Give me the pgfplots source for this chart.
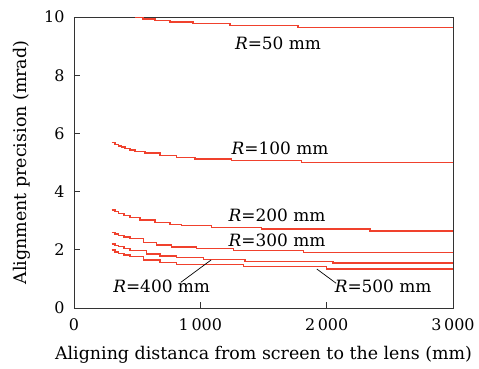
\documentclass[border=0pt]{standalone}
\usepackage{pgfplots}
\pgfplotsset{compat=1.18}
\usepackage{fontspec}
\setmainfont{DejaVu Serif}
\definecolor{cred}{RGB}{240,65,45}
\begin{document}
\fontsize{16}{19}\selectfont
\begin{tikzpicture}
\useasboundingbox (-74bp,-61bp) rectangle (405bp,308bp);
\begin{axis}[
  at={(0,0)}, anchor=south west,
  scale only axis,
  width=379bp, height=291bp,
  xmin=0, xmax=3000, ymin=0, ymax=10,
  xtick={0,1000,2000,3000},
  ytick={0,2,4,6,8,10},
  xtick pos=bottom, ytick pos=left,
  tick align=inside,
  major tick length=6bp,
  /pgf/number format/assume math mode=true,
  /pgf/number format/1000 sep={\,},
  ticklabel style={font=\fontsize{16}{19}\selectfont},
  xticklabel style={yshift=-5bp},
  yticklabel style={xshift=-4bp},
  axis line style={black!80, line width=0.8pt},
  every tick/.style={black!80, line width=0.8pt},
]
% R=50
\addplot[const plot, cred, line width=1.4bp, mark=none] coordinates {(483,9.98)(546,9.93)(641,9.88)(760,9.83)(942,9.77)(1235,9.70)(1774,9.63)(3000,9.63)};
% R=100
\addplot[const plot, cred, line width=1.4bp, mark=none] coordinates {(298,5.68)(325,5.62)(351,5.57)(378,5.53)(404,5.49)(443,5.43)(483,5.38)(562,5.32)(681,5.25)(813,5.18)(958,5.12)(1248,5.07)(1803,5.01)(3000,5.01)};
% R=200
\addplot[const plot, cred, line width=1.4bp, mark=none] coordinates {(298,3.37)(325,3.31)(351,3.25)(397,3.18)(443,3.12)(523,3.02)(641,2.93)(760,2.87)(853,2.83)(1090,2.77)(1486,2.71)(2344,2.65)(3000,2.65)};
% R=300
\addplot[const plot, cred, line width=1.4bp, mark=none] coordinates {(298,2.59)(325,2.54)(351,2.49)(397,2.44)(443,2.39)(549,2.26)(654,2.16)(773,2.09)(971,2.04)(1261,1.97)(1815,1.91)(3000,1.91)};
% R=400
\addplot[const plot, cred, line width=1.4bp, mark=none] coordinates {(298,2.20)(325,2.15)(351,2.11)(397,2.04)(443,1.97)(575,1.86)(681,1.79)(813,1.73)(1024,1.67)(1354,1.60)(2050,1.54)(3000,1.54)};
% R=500
\addplot[const plot, cred, line width=1.4bp, mark=none] coordinates {(298,1.99)(325,1.93)(351,1.88)(397,1.82)(443,1.77)(549,1.65)(681,1.56)(813,1.49)(1340,1.42)(2000,1.34)(3000,1.34)};
\node[font=\fontsize{17}{20}\selectfont] at (axis cs:1615,9.1) {\textit{R}=50 mm};
\node[font=\fontsize{17}{20}\selectfont] at (axis cs:1631,5.5) {\textit{R}=100 mm};
\node[font=\fontsize{17}{20}\selectfont] at (axis cs:1607,3.17) {\textit{R}=200 mm};
\node[font=\fontsize{17}{20}\selectfont] at (axis cs:1607,2.31) {\textit{R}=300 mm};
\node[font=\fontsize{17}{20}\selectfont] at (axis cs:694,0.73) {\textit{R}=400 mm};
\node[font=\fontsize{17}{20}\selectfont] at (axis cs:2447,0.73) {\textit{R}=500 mm};
\draw[black, line width=0.7pt] (axis cs:845,0.88) -- (axis cs:1085,1.65);
\draw[black, line width=0.7pt] (axis cs:1922,1.34) -- (axis cs:2075,0.85);
\end{axis}
\node[font=\fontsize{17.5}{20}\selectfont] at (189.5bp,-47bp) {Aligning distanca from screen to the lens (mm)};
\node[font=\fontsize{17.5}{20}\selectfont, rotate=90] at (-52bp,145.5bp) {Alignment precision (mrad)};
\end{tikzpicture}
\end{document}
